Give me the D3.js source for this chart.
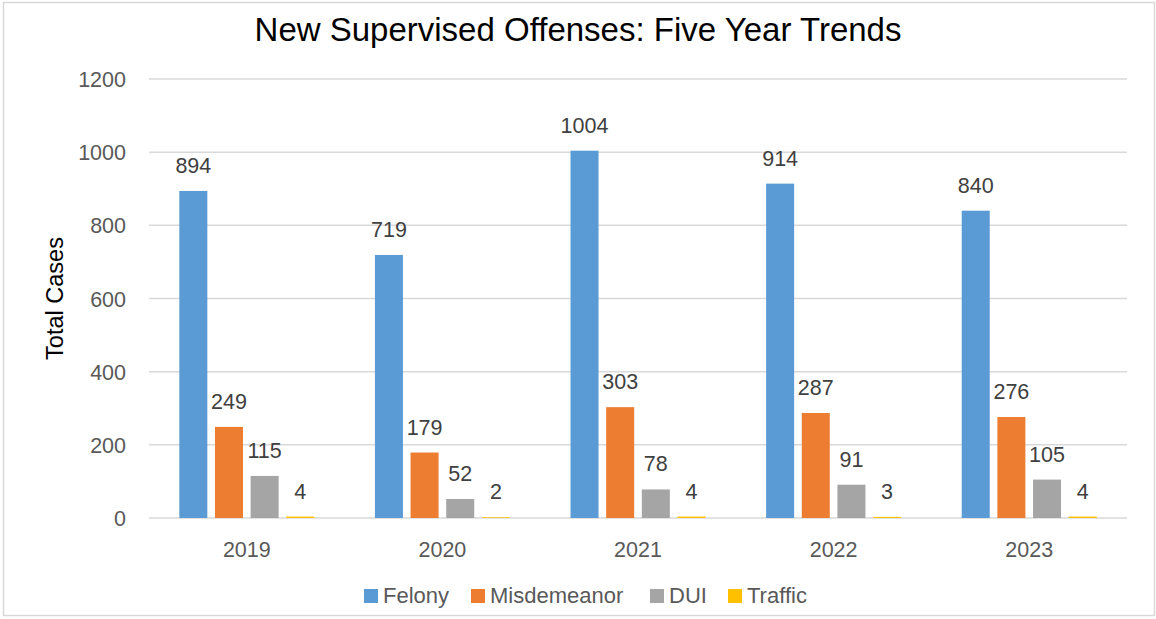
<!DOCTYPE html>
<html>
<head>
<meta charset="utf-8">
<script src="https://cdn.jsdelivr.net/npm/d3@7"></script>
<style>
  body { margin: 0; background: #fff; }
  text { font-family: "Liberation Sans", Arial, sans-serif; }
</style>
</head>
<body>
<div id="chart"></div>
<script>
// data
const years = ["2019", "2020", "2021", "2022", "2023"];
const seriesNames = ["Felony", "Misdemeanor", "DUI", "Traffic"];
const felony = [894, 719, 1004, 914, 840];
const misdemeanor = [249, 179, 303, 287, 276];
const dui = [115, 52, 78, 91, 105];
const traffic = [4, 2, 4, 3, 4];
const yTicks = [0, 200, 400, 600, 800, 1000, 1200];
const colors = ["#5B9BD5", "#ED7D31", "#A5A5A5", "#FFC000"];

const seriesValues = [felony, misdemeanor, dui, traffic];

// afmetingen
const width = 1156, height = 619;
const margin = { top: 79, right: 29, bottom: 101, left: 149 };

const svg = d3.select("#chart")
    .append("svg")
    .attr("width", width)
    .attr("height", height);

// rand om de grafiek
svg.append("rect")
    .attr("x", 3.5).attr("y", 2.5)
    .attr("width", 1151).attr("height", 613)
    .attr("fill", "#fff")
    .attr("stroke", "#D9D9D9")
    .attr("stroke-width", 1.5);

const x0 = d3.scaleBand()
    .domain(years)
    .range([margin.left, width - margin.right])
    .paddingInner(0.31)
    .paddingOuter(0.155);

const x1 = d3.scaleBand()
    .domain(seriesNames)
    .range([0, x0.bandwidth()])
    .paddingInner(0.214);

const y = d3.scaleLinear()
    .domain([0, 1200])
    .range([height - margin.bottom, margin.top]);

// gridlijnen
svg.append("g")
    .selectAll("line")
    .data(yTicks)
    .join("line")
    .attr("x1", margin.left)
    .attr("x2", width - margin.right)
    .attr("y1", d => y(d))
    .attr("y2", d => y(d))
    .attr("stroke", "#D9D9D9")
    .attr("stroke-width", 1.5);

// y-as labels
const yAxis = d3.axisLeft(y).tickValues(yTicks).tickFormat(d3.format("d")).tickSize(0).tickPadding(23);
svg.append("g")
    .attr("transform", "translate(" + margin.left + ",0)")
    .call(yAxis)
    .call(g => g.select(".domain").remove())
    .selectAll("text")
    .attr("fill", "#595959")
    .style("font-size", "21.5px")
    .attr("dy", "0.35em");

// x-as labels
const xAxis = d3.axisBottom(x0).tickSize(0).tickPadding(24);
svg.append("g")
    .attr("transform", "translate(0," + (height - margin.bottom) + ")")
    .call(xAxis)
    .call(g => g.select(".domain").remove())
    .selectAll("text")
    .attr("fill", "#595959")
    .style("font-size", "21.5px");

// data omzetten naar rijen per jaar
const rows = years.map((yr, i) => ({
    year: yr,
    values: seriesNames.map((s, j) => ({ key: s, value: seriesValues[j][i], color: colors[j] }))
}));

const groups = svg.append("g")
    .selectAll("g")
    .data(rows)
    .join("g")
    .attr("transform", d => "translate(" + x0(d.year) + ",0)");

groups.selectAll("rect")
    .data(d => d.values)
    .join("rect")
    .attr("x", d => x1(d.key))
    .attr("y", d => y(d.value))
    .attr("width", x1.bandwidth())
    .attr("height", d => y(0) - y(d.value))
    .attr("fill", d => d.color);

// waardes boven de staven
groups.selectAll("text.label")
    .data(d => d.values)
    .join("text")
    .attr("class", "label")
    .attr("x", d => x1(d.key) + x1.bandwidth() / 2)
    .attr("y", d => y(d.value) - 18)
    .attr("text-anchor", "middle")
    .attr("fill", "#404040")
    .style("font-size", "21.5px")
    .text(d => d.value);

// titel
svg.append("text")
    .attr("x", 578)
    .attr("y", 41)
    .attr("text-anchor", "middle")
    .attr("fill", "#000")
    .style("font-size", "33px")
    .text("New Supervised Offenses: Five Year Trends");

// y-as titel
svg.append("text")
    .attr("transform", "translate(63," + ((margin.top + height - margin.bottom) / 2) + ") rotate(-90)")
    .attr("text-anchor", "middle")
    .attr("fill", "#000")
    .style("font-size", "23.5px")
    .text("Total Cases");

// legenda
const legendX = [364, 471, 650, 728];
const legend = svg.append("g")
    .selectAll("g")
    .data(seriesNames)
    .join("g")
    .attr("transform", (d, i) => "translate(" + legendX[i] + ",589)");

legend.append("rect")
    .attr("width", 14)
    .attr("height", 14)
    .attr("fill", (d, i) => colors[i]);

legend.append("text")
    .attr("x", 19)
    .attr("y", 14)
    .attr("fill", "#595959")
    .style("font-size", "22px")
    .text(d => d);
</script>
</body>
</html>
